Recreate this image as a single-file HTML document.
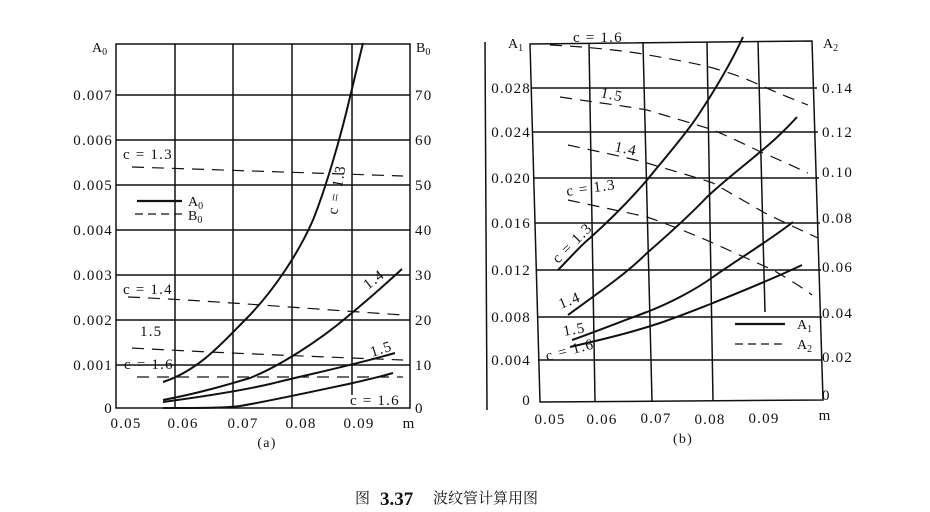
<!DOCTYPE html>
<html><head><meta charset="utf-8"><style>
html,body{margin:0;padding:0;background:#fff;}
svg{display:block}
text{font-family:"Liberation Serif",serif;fill:#111;}
.n{letter-spacing:1.2px}
</style></head><body>
<svg width="930" height="512" viewBox="0 0 930 512" xmlns="http://www.w3.org/2000/svg">
<g stroke="#111" stroke-width="1.5" fill="none">
<rect x="116" y="44" width="294" height="364"/>
<line x1="175" y1="44" x2="175" y2="408"/><line x1="233" y1="44" x2="233" y2="408"/>
<line x1="292" y1="44" x2="292" y2="408"/><line x1="352" y1="44" x2="352" y2="395"/>
<line x1="116" y1="95" x2="410" y2="95"/><line x1="116" y1="140" x2="410" y2="140"/>
<line x1="116" y1="185" x2="410" y2="185"/><line x1="116" y1="230" x2="410" y2="230"/>
<line x1="116" y1="275" x2="410" y2="275"/><line x1="116" y1="320" x2="410" y2="320"/>
<line x1="116" y1="365" x2="410" y2="365"/>
</g>
<g stroke="#111" stroke-width="2" fill="none">
<path d="M163,382 C200,370 225,340 245,320 C275,290 300,250 313,220 C325,190 340,140 350,97 L363,43"/>
<path d="M163,400 C200,393 230,384 250,378 C280,366 320,340 347,317 C370,298 390,280 402,269"/>
<path d="M163,402 C200,397 240,391 270,384 C310,374 350,366 395,353"/>
<path d="M163,408 C200,408 225,408 240,406 C270,401 320,390 353,383 C370,379 383,376 393,373"/>
</g>
<g stroke="#111" stroke-width="1.2" fill="none" stroke-dasharray="12,8">
<path d="M132,167 L403,176"/>
<path d="M128,297 C200,300 300,308 403,315"/>
<path d="M132,348 C200,352 300,356 403,360"/>
<path d="M137,377 L403,377"/>
</g>
<line x1="137" y1="201" x2="182" y2="201" stroke="#111" stroke-width="2.2"/>
<line x1="135" y1="214" x2="182" y2="214" stroke="#111" stroke-width="1.2" stroke-dasharray="8,5"/>
<g font-size="14">
<text x="188" y="206">A<tspan font-size="10" dy="3">0</tspan></text>
<text x="188" y="220">B<tspan font-size="10" dy="3">0</tspan></text>
<text x="92" y="52">A<tspan font-size="10" dy="3">0</tspan></text>
<text x="416" y="52">B<tspan font-size="10" dy="3">0</tspan></text>
</g>
<g font-size="15" text-anchor="end" class="n">
<text x="113" y="100">0.007</text><text x="113" y="145">0.006</text><text x="113" y="190">0.005</text>
<text x="113" y="235">0.004</text><text x="113" y="280">0.003</text><text x="113" y="325">0.002</text>
<text x="113" y="370">0.001</text><text x="113" y="413">0</text>
</g>
<g font-size="15" class="n">
<text x="415" y="100">70</text><text x="415" y="145">60</text><text x="415" y="190">50</text>
<text x="415" y="235">40</text><text x="415" y="280">30</text><text x="415" y="325">20</text>
<text x="415" y="370">10</text><text x="415" y="413">0</text>
</g>
<g font-size="15" text-anchor="middle" class="n">
<text x="126" y="428">0.05</text><text x="183" y="428">0.06</text><text x="243" y="428">0.07</text>
<text x="301" y="428">0.08</text><text x="359" y="428">0.09</text><text x="409" y="428">m</text>
<text x="267" y="447" font-size="14">(a)</text>
</g>
<g font-size="15" class="n">
<text x="123" y="159">c = 1.3</text>
<text x="123" y="294">c = 1.4</text>
<text x="140" y="336">1.5</text>
<text x="124" y="369">c = 1.6</text>
<text x="350" y="405">c = 1.6</text>
<text transform="translate(337,215) rotate(-80)">c = 1.3</text>
<text transform="translate(368,290) rotate(-38)">1.4</text>
<text transform="translate(372,357) rotate(-18)">1.5</text>
</g>

<g stroke="#111" stroke-width="1.5" fill="none">
<path d="M530,44 L812,41 L823,400 L540,402 Z"/>
<line x1="589" y1="43" x2="595" y2="401"/><line x1="643" y1="43" x2="652" y2="401"/>
<line x1="707" y1="42" x2="713" y2="401"/><line x1="758" y1="42" x2="765" y2="312"/>
<line x1="532" y1="88" x2="817" y2="88"/><line x1="533" y1="132" x2="818" y2="132"/>
<line x1="534" y1="178" x2="819" y2="178"/><line x1="535" y1="223" x2="820" y2="223"/>
<line x1="536" y1="270" x2="821" y2="270"/><line x1="537" y1="317" x2="822" y2="317"/>
<line x1="538" y1="360" x2="822" y2="360"/>
<line x1="485" y1="42" x2="487" y2="410"/>
</g>
<g stroke="#111" stroke-width="2" fill="none">
<path d="M558,270 C570,258 580,246 590,238 C610,220 630,200 647,180 C665,158 685,135 697,117 C715,90 730,65 743,37"/>
<path d="M568,315 C595,295 625,275 647,253 C670,233 690,215 707,197 C725,180 745,165 760,152 C775,140 787,128 797,117"/>
<path d="M572,340 C600,330 625,320 647,312 C670,303 695,290 713,277 C740,258 770,240 793,222"/>
<path d="M570,347 C600,340 630,333 660,323 C680,316 695,310 713,303 C740,292 775,278 802,265"/>
</g>
<g stroke="#111" stroke-width="1.2" fill="none" stroke-dasharray="12,8">
<path d="M550,45 C590,47 615,50 637,53 C665,58 690,62 713,68 C730,73 742,77 753,82 C775,92 795,100 808,105"/>
<path d="M560,97 C600,103 625,106 647,110 C670,117 695,124 713,130 C730,137 748,146 763,153 C780,160 795,167 808,173"/>
<path d="M568,145 C600,152 625,157 647,163 C670,170 695,177 713,183 C730,193 748,203 763,212 C785,223 805,232 818,238"/>
<path d="M568,200 C600,207 625,212 647,217 C670,225 695,235 713,243 C735,253 755,262 773,270 C790,280 803,288 812,295"/>
</g>
<line x1="735" y1="324" x2="785" y2="324" stroke="#111" stroke-width="2.2"/>
<line x1="735" y1="344" x2="785" y2="344" stroke="#111" stroke-width="1.2" stroke-dasharray="8,5"/>
<g font-size="14">
<text x="797" y="329">A<tspan font-size="10" dy="3">1</tspan></text>
<text x="797" y="349">A<tspan font-size="10" dy="3">2</tspan></text>
<text x="508" y="48">A<tspan font-size="10" dy="3">1</tspan></text>
<text x="823" y="48">A<tspan font-size="10" dy="3">2</tspan></text>
</g>
<g font-size="15" text-anchor="end" class="n">
<text x="531" y="93">0.028</text><text x="531" y="137">0.024</text><text x="531" y="183">0.020</text>
<text x="531" y="228">0.016</text><text x="531" y="275">0.012</text><text x="531" y="322">0.008</text>
<text x="531" y="365">0.004</text><text x="531" y="405">0</text>
</g>
<g font-size="15" class="n">
<text x="822" y="93">0.14</text><text x="822" y="137">0.12</text><text x="822" y="177">0.10</text>
<text x="822" y="223">0.08</text><text x="822" y="272">0.06</text><text x="822" y="318">0.04</text>
<text x="822" y="362">0.02</text><text x="822" y="400">0</text>
</g>
<g font-size="15" text-anchor="middle" class="n">
<text x="550" y="424">0.05</text><text x="602" y="424">0.06</text><text x="656" y="423">0.07</text>
<text x="710" y="424">0.08</text><text x="764" y="423">0.09</text><text x="825" y="420">m</text>
<text x="683" y="443" font-size="14">(b)</text>
</g>
<g font-size="15" class="n">
<text x="573" y="42">c = 1.6</text>
<text x="600" y="97" transform="rotate(12 600 97)">1.5</text>
<text x="614" y="151" transform="rotate(12 614 151)">1.4</text>
<text x="567" y="196" transform="rotate(-8 567 196)">c = 1.3</text>
<text transform="translate(558,264) rotate(-45)">c = 1.3</text>
<text transform="translate(561,309) rotate(-22)">1.4</text>
<text transform="translate(564,336) rotate(-10)">1.5</text>
<text transform="translate(547,361) rotate(-15)">c = 1.6</text>
</g>

<text x="355" y="503" font-size="15" style="font-family:'Noto Serif CJK SC','Noto Sans CJK SC',serif">图</text>
<text x="380" y="505" font-size="19" font-weight="bold">3.37</text>
<text x="433" y="503" font-size="15" style="font-family:'Noto Serif CJK SC','Noto Sans CJK SC',serif">波纹管计算用图</text>
</svg>
</body></html>
